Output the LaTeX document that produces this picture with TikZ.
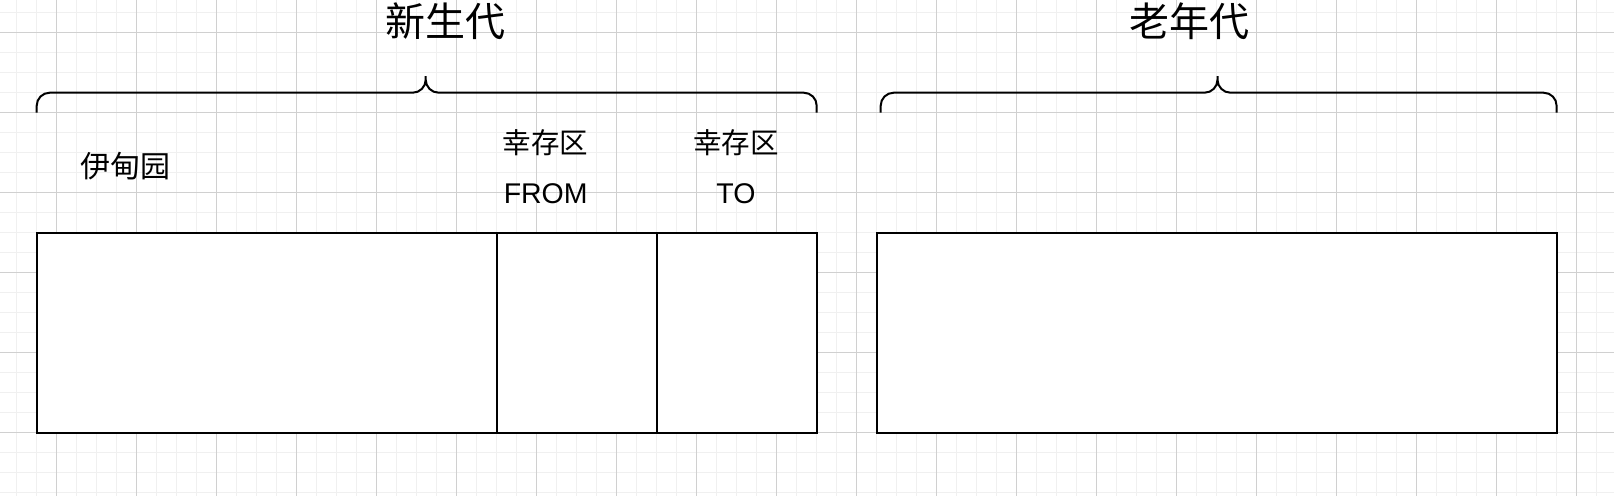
\documentclass[tikz,border=0pt]{standalone}
\usepackage{fontspec}
\setmainfont{Liberation Sans}
\newfontfamily\cjk{Noto Sans CJK SC}
\usepackage{tikz}
\usetikzlibrary{positioning}
\definecolor{gridlight}{HTML}{F0F0F0}
\definecolor{griddark}{HTML}{D0D0D0}
\tikzset{
  gridminor/.style={draw=gridlight, line width=1pt},
  gridmajor/.style={draw=griddark, line width=1pt},
  area/.style={rectangle, draw=black, fill=white, line width=2pt, inner sep=0pt,
               outer sep=0pt, minimum height=200pt},
  brace/.style={draw=black, line width=2pt, rounded corners=13pt},
  gentitle/.style={font=\cjk\fontsize{40}{48}\selectfont},
  lbl/.style={font=\fontsize{28.5}{50}\selectfont, align=center, inner sep=0pt}
}

\begin{document}
\begin{tikzpicture}[x=1pt, y=-1pt]
 \useasboundingbox (0,0) rectangle (1614,496);
 % grid
 \foreach \x in {16,36,...,1596} \draw[gridminor] (\x,0) -- (\x,496);
 \foreach \y in {12.7,32.7,...,493} \draw[gridminor] (0,\y) -- (1614,\y);
 \foreach \x in {56,136,...,1596} \draw[gridmajor] (\x,0) -- (\x,496);
 \foreach \y in {32.7,112.7,...,493} \draw[gridmajor] (0,\y) -- (1614,\y);

 % heap areas
 \node[area, anchor=north west, minimum width=460pt] (eden) at (36.7,232.7) {};
 \node[area, right=0pt of eden, minimum width=160pt] (from) {};
 \node[area, right=0pt of from, minimum width=160pt] (to) {};
 \node[area, anchor=north west, minimum width=680pt] (old) at (876.8,232.7) {};

 % labels
 \node[lbl, font=\cjk\fontsize{30}{36}\selectfont] (edenlbl) at (125.8,165.8) {伊甸园};
 \node[lbl] (fromlbl) at (545.7,166.5) {{\cjk 幸存区}\\FROM};
 \node[lbl] (tolbl) at (736,166.5) {{\cjk 幸存区}\\TO};

 % braces
 \draw[brace] (36.7,112.7) |- (425.7,92.7) -- (425.7,76) (425.7,76) -- (425.7,92.7) -| (816.7,112.7);
 \draw[brace] (880.7,112.7) |- (1217.5,92.7) -- (1217.5,76) (1217.5,76) -- (1217.5,92.7) -| (1556.6,112.7);
 \node[gentitle] (young) at (445,21.3) {新生代};
 \node[gentitle] (tenured) at (1189.5,21.7) {老年代};
\end{tikzpicture}
\end{document}
